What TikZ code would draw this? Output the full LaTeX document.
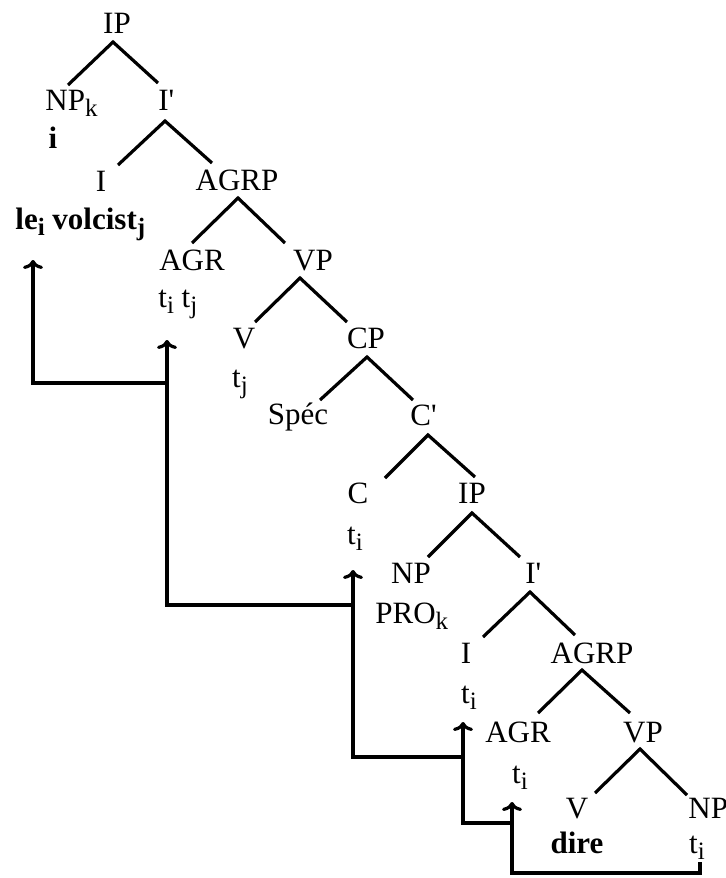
\documentclass[tikz,border=0pt]{standalone}
\usepackage{fontspec}
\setmainfont{Liberation Serif}
\usetikzlibrary{arrows.meta}
\newcommand\sbs[1]{\raisebox{-3pt}{\fontsize{12.5}{12.5}\selectfont #1}}
\newcommand\prm{\textquotesingle}
\begin{document}
\begin{tikzpicture}[x=0.5pt,y=-0.5pt,
  lbl/.style={inner sep=0pt, anchor=base, font=\fontsize{15.5}{18}\selectfont},
  lw/.style={lbl, anchor=base west},
  bd/.style={font=\fontsize{15.5}{18}\selectfont\bfseries},
  br/.style={line width=1.6pt},
  mv/.style={line width=1.6pt, -{Computer Modern Rightarrow[length=4.5pt,width=10pt]}}]
\useasboundingbox (0,0) rectangle (726,878);
% labels
\node[lbl] (IPa) at (117,33) {IP};
\node[lw] (NPa) at (45,110) {NP\sbs{k}};
\node[lbl,bd] (ia) at (53,148) {i};
\node[lw] (Ia1) at (158,110) {I\prm};
\node[lbl] (Ia) at (101,191) {I};
\node[lbl] (AGRPa) at (237,190) {AGRP};
\node[lw,bd] (lev) at (15,229) {le\sbs{i} volcist\sbs{j}};
\node[lbl] (AGRa) at (192,270) {AGR};
\node[lbl] (VPa) at (313,270) {VP};
\node[lw] (tta) at (158,307) {t\sbs{i} t\sbs{j}};
\node[lbl] (Va) at (244,348) {V};
\node[lbl] (CPa) at (366,348) {CP};
\node[lbl] (tja) at (240,387) {t\sbs{j}};
\node[lbl] (Spec) at (298,424) {Spéc};
\node[lw] (Cb1) at (410,425) {C\prm};
\node[lbl] (Cb) at (358,503) {C};
\node[lbl] (IPb) at (472,503) {IP};
\node[lbl] (tib) at (355,544) {t\sbs{i}};
\node[lbl] (NPb) at (411,583) {NP};
\node[lw] (Ib1) at (525,583) {I\prm};
\node[lw] (PRO) at (375,623) {PRO\sbs{k}};
\node[lbl] (Ib) at (466,663) {I};
\node[lbl] (AGRPb) at (592,663) {AGRP};
\node[lbl] (tic) at (469,703) {t\sbs{i}};
\node[lbl] (AGRb) at (518,742) {AGR};
\node[lbl] (VPb) at (643,742) {VP};
\node[lbl] (tid) at (520,783) {t\sbs{i}};
\node[lbl] (Vb) at (577,818) {V};
\node[lw] (NPc) at (688,818) {NP};
\node[lbl,bd] (dire) at (577,853) {dire};
\node[lbl] (tie) at (697,853) {t\sbs{i}};
% branches
\draw[br] ([shift={(23,-25)}]NPa.base west) -- ([shift={(-4,9)}]IPa.base) -- ([shift={(0,-27)}]Ia1.base west);
\draw[br] ([shift={(17,-26)}]Ia.base) -- ([shift={(7,11)}]Ia1.base west) -- ([shift={(-25,-27)}]AGRPa.base);
\draw[br] ([shift={(0,-27)}]AGRa.base) -- ([shift={(1,8)}]AGRPa.base) -- ([shift={(-28,-27)}]VPa.base);
\draw[br] ([shift={(11,-26)}]Va.base) -- ([shift={(-13,8)}]VPa.base) -- ([shift={(-19,-26)}]CPa.base);
\draw[br] ([shift={(22,-24)}]Spec.base) -- ([shift={(1,9)}]CPa.base) -- ([shift={(3,-25)}]Cb1.base west);
\draw[br] ([shift={(27,-25)}]Cb.base) -- ([shift={(18,10)}]Cb1.base west) -- ([shift={(3,-26)}]IPb.base);
\draw[br] ([shift={(17,-26)}]NPb.base) -- ([shift={(0,10)}]IPb.base) -- ([shift={(-5,-26)}]Ib1.base west);
\draw[br] ([shift={(17,-26)}]Ib.base) -- ([shift={(5,9)}]Ib1.base west) -- ([shift={(-17,-28)}]AGRPb.base);
\draw[br] ([shift={(20,-29)}]AGRb.base) -- ([shift={(-10,7)}]AGRPb.base) -- ([shift={(-13,-29)}]VPb.base);
\draw[br] ([shift={(18,-25)}]Vb.base) -- ([shift={(-3,7)}]VPb.base) -- ([shift={(-1,-23)}]NPc.base west);
% movement
\coordinate (m1s) at (700,862);
\coordinate (m1b) at (700,873);
\coordinate (m1e) at (512,802);
\coordinate (m2s) at (512,823);
\coordinate (m2e) at (463,722);
\coordinate (m3s) at (463,757);
\coordinate (m3e) at (353,570);
\coordinate (m4s) at (353,605);
\coordinate (m4e) at (167,340);
\coordinate (m5s) at (167,383);
\coordinate (m5e) at (33,260);
\draw[mv] (m1s) -- (m1b) -| (m1e);
\draw[mv] (m2s) -| (m2e);
\draw[mv] (m3s) -| (m3e);
\draw[mv] (m4s) -| (m4e);
\draw[mv] (m5s) -| (m5e);
\end{tikzpicture}
\end{document}
